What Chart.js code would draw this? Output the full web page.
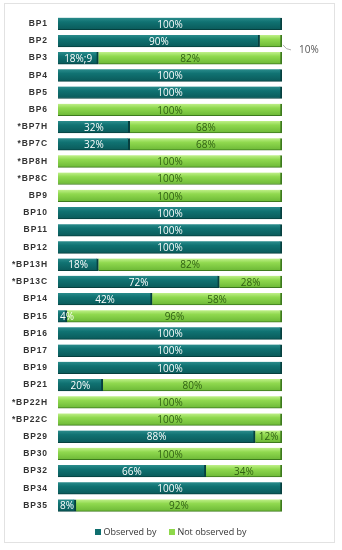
<!DOCTYPE html>
<html>
<head>
<meta charset="utf-8">
<script src="https://cdn.jsdelivr.net/npm/chart.js@4"></script>
<style>
  html, body { margin: 0; padding: 0; background: #fff; }
  #wrap { position: relative; width: 342px; height: 550px; }
  #frame { position: absolute; left: 4px; top: 3px; width: 331px; height: 540px; border: 1px solid #e2e2e2; box-sizing: border-box; }
  canvas { position: absolute; left: 0; top: 0; }
  #legend { position: absolute; left: 0; width: 342px; top: 525px; text-align: center; font: 9px "Open Sans", sans-serif; color: #333; }
  #legend span { display: inline-block; margin: 0 6.5px; }
  #legend i { display: inline-block; width: 6px; height: 6px; margin-right: 2px; vertical-align: 0px; }
</style>
</head>
<body>
<div id="wrap">
  <div id="frame"></div>
  <canvas id="chart" width="342" height="550"></canvas>
  <div id="legend"></div>
</div>
<script>
// categories, top to bottom
const categories = ['BP1', 'BP2', 'BP3', 'BP4', 'BP5', 'BP6', '*BP7H', '*BP7C', '*BP8H', '*BP8C',
  'BP9', 'BP10', 'BP11', 'BP12', '*BP13H', '*BP13C', 'BP14', 'BP15', 'BP16', 'BP17',
  'BP19', 'BP21', '*BP22H', '*BP22C', 'BP29', 'BP30', 'BP32', 'BP34', 'BP35'];

// percentages
const observed    = [100, 90, 18, 100, 100, 0, 32, 32, 0, 0, 0, 100, 100, 100, 18, 72, 42, 4, 100, 100, 100, 20, 0, 0, 88, 0, 66, 100, 8];
const notObserved = [0, 10, 82, 0, 0, 100, 68, 68, 100, 100, 100, 0, 0, 0, 82, 28, 58, 96, 0, 0, 0, 80, 100, 100, 12, 100, 34, 0, 92];

// label text as printed in the original (BP3 has a typo there)
const observedLabels = observed.map((v, i) => categories[i] === 'BP3' ? '18%;9' : v + '%');
const notObservedLabels = notObserved.map(v => v + '%');

// categories whose small green label sits outside with a leader line
const calloutCats = ['BP2'];

window.addEventListener('load', function() {
  const ctx = document.getElementById('chart').getContext('2d');

  // vertical gradient per bar for the glossy look
  function barGradient(stops, fallback) {
    return function(c) {
      const chart = c.chart;
      if (!chart.chartArea || c.dataIndex === undefined) return fallback;
      const yc = chart.scales.y.getPixelForValue(c.dataIndex);
      const g = chart.ctx.createLinearGradient(0, yc - 6, 0, yc + 6);
      g.addColorStop(0, stops[0]);
      g.addColorStop(0.35, stops[1]);
      g.addColorStop(1, stops[2]);
      return g;
    };
  }

  // draws the percent text in each segment
  const segmentLabels = {
    id: 'segmentLabels',
    afterDatasetsDraw(chart) {
      const c = chart.ctx;
      c.save();
      c.font = '10px "Open Sans", sans-serif';
      c.textBaseline = 'middle';
      chart.data.datasets.forEach((ds, di) => {
        const meta = chart.getDatasetMeta(di);
        meta.data.forEach((bar, i) => {
          const v = ds.data[i];
          if (!v) return;
          const txt = ds.labelText[i];
          const left = Math.min(bar.x, bar.base);
          const right = Math.max(bar.x, bar.base);
          if (di === 1 && calloutCats.includes(categories[i])) {
            c.strokeStyle = '#9a9a9a';
            c.lineWidth = 0.8;
            c.beginPath();
            c.moveTo(right + 1, bar.y + 4);
            c.quadraticCurveTo(right + 4, bar.y + 9, right + 9, bar.y + 9);
            c.stroke();
            c.fillStyle = '#555';
            c.textAlign = 'left';
            c.fillText(txt, right + 17, bar.y + 9);
            return;
          }
          c.fillStyle = di === 0 ? '#ffffff' : '#2f5f12';
          if (right - left < 20) {
            c.textAlign = 'left';
            c.fillText(txt, left + 2, bar.y + 1);
          } else {
            c.textAlign = 'center';
            c.fillText(txt, (left + right) / 2, bar.y + 1);
          }
        });
      });
      c.restore();
    }
  };

  // letter spacing for the category labels only (legend is html)
  const tickSpacing = {
    id: 'tickSpacing',
    beforeDraw(chart) { chart.ctx.letterSpacing = '0.9px'; },
    beforeDatasetsDraw(chart) { chart.ctx.letterSpacing = '0px'; }
  };

  const colors = ['#0f6e6e', '#8ed84a'];

  const chart = new Chart(ctx, {
    type: 'bar',
    data: {
      labels: categories,
      datasets: [
        {
          label: 'Observed by',
          data: observed,
          labelText: observedLabels,
          backgroundColor: barGradient(['#2a8c8c', '#107272', '#0a5a5a'], colors[0]),
          borderColor: '#06403f',
          borderWidth: { right: 2, bottom: 1, top: 0, left: 0 },
          borderSkipped: false,
          barThickness: 12
        },
        {
          label: 'Not observed by',
          data: notObserved,
          labelText: notObservedLabels,
          backgroundColor: barGradient(['#c0f08a', '#90d94f', '#6cb836'], colors[1]),
          borderColor: '#3d7a1d',
          borderWidth: { right: 2, bottom: 1, top: 0, left: 0 },
          borderSkipped: false,
          barThickness: 12
        }
      ]
    },
    options: {
      indexAxis: 'y',
      responsive: false,
      animation: false,
      layout: { padding: { top: 13, right: 60, bottom: 36, left: 0 } },
      scales: {
        x: {
          stacked: true,
          min: 0,
          max: 100,
          display: false
        },
        y: {
          stacked: true,
          grid: { display: false, drawTicks: false },
          border: { display: false },
          ticks: {
            color: '#333',
            padding: 10,
            font: { family: '"Liberation Sans", sans-serif', size: 8.5, weight: 'bold' }
          },
          afterFit(scale) { scale.width = 58; }
        }
      },
      plugins: {
        legend: { display: false },
        tooltip: { enabled: false }
      }
    },
    plugins: [segmentLabels, tickSpacing]
  });

  // html legend from the dataset labels
  document.getElementById('legend').innerHTML = chart.data.datasets
    .map((ds, i) => '<span><i style="background:' + colors[i] + '"></i>' + ds.label + '</span>')
    .join('');
});
</script>
</body>
</html>
